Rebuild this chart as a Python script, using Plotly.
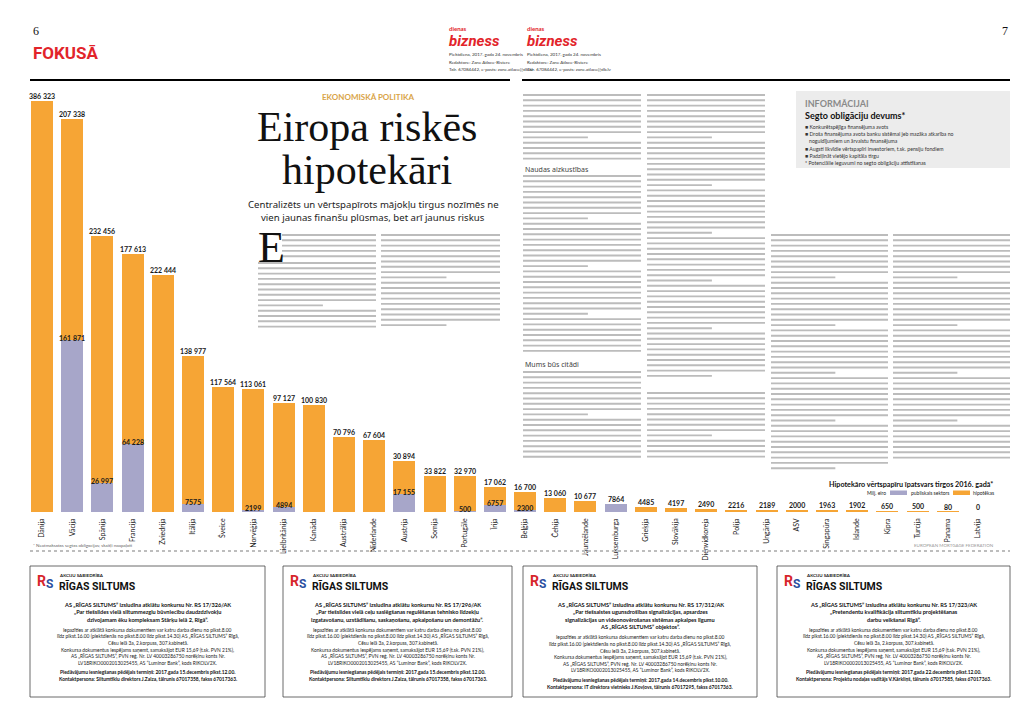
import plotly.graph_objects as go

# ---------------- data ----------------
countries = ["Dānija", "Vācija", "Spānija", "Francija", "Zviedrija", "Itālija", "Šveice",
             "Norvēģija", "Lielbritānija", "Kanāda", "Austrālija", "Nīderlande", "Austrija",
             "Somija", "Portugāle", "Īrija", "Beļģija", "Čehija", "Jaunzēlande", "Luksemburga",
             "Grieķija", "Slovākija", "Dienvidkoreja", "Polija", "Ungārija", "ASV", "Singapūra",
             "Islande", "Kipra", "Turcija", "Panama", "Latvija"]
publiskais = [0, 161871, 26997, 64228, 0, 7575, 0, 2199, 4894, 0, 0, 0, 17155, 0, 500, 6757,
              2300, 0, 0, 7864, 0, 0, 0, 0, 0, 0, 0, 0, 0, 0, 0, 0]
hipotekas = [386323, 207338, 232456, 177613, 222444, 138977, 117564, 113061, 97127, 100830,
             70796, 67604, 30894, 33822, 32970, 17062, 16700, 13060, 10677, 0, 4485, 4197,
             2490, 2216, 2189, 2000, 1963, 1902, 650, 500, 80, 0]

ORANGE = "#F6A535"
PURPLE = "#A7A6C9"

# plot area in page pixels (for decorations)
L, R, T, B = 27, 993, 86, 512


def X(px):
    return (px - L) / (R - L)


def Y(py):
    return (B - py) / (B - T)


def fmt(v):
    return f"{v:,}".replace(",", " ") if v >= 10000 else str(v)


fig = go.Figure()
fig.add_trace(go.Bar(x=countries, y=publiskais, name="publiskais sektors",
                     marker=dict(color=PURPLE, line=dict(width=0))))
fig.add_trace(go.Bar(x=countries, y=hipotekas, name="hipotēkas",
                     marker=dict(color=ORANGE, line=dict(width=0))))

ann = []
LBL = dict(family="Lato", size=7, color="#1a1a1a")
for c, p, h in zip(countries, publiskais, hipotekas):
    tot = p + h
    if h > 0 or tot == 0:
        ann.append(dict(x=c, y=tot, xref="x", yref="y", text=f"<b>{fmt(h)}</b>",
                        showarrow=False, yanchor="bottom", font=LBL, yshift=-1))
    if p > 0:
        if h > 0:
            ann.append(dict(x=c, y=p, xref="x", yref="y", text=f"<b>{fmt(p)}</b>",
                            showarrow=False, yanchor="bottom", font=LBL, yshift=-4))
        else:
            ann.append(dict(x=c, y=p, xref="x", yref="y", text=f"<b>{fmt(p)}</b>",
                            showarrow=False, yanchor="bottom", font=LBL, yshift=-1))


def txt(x, y, text, size=6, color="#222", family="Lato", anchor="left", yanchor="middle", bold=False):
    t = f"<b>{text}</b>" if bold else text
    ann.append(dict(x=X(x), y=Y(y), xref="paper", yref="paper", text=t, showarrow=False,
                    xanchor=anchor, yanchor=yanchor, font=dict(family=family, size=size, color=color)))


shapes = []


def rect(x0, y0, x1, y1, fill=None, line=None, lw=1):
    shapes.append(dict(type="rect", xref="paper", yref="paper", x0=X(x0), x1=X(x1), y0=Y(y0), y1=Y(y1),
                       fillcolor=fill if fill else "rgba(0,0,0,0)",
                       line=dict(color=line if line else "rgba(0,0,0,0)", width=lw if line else 0),
                       layer="above" if fill is None else "below"))


def hline(x0, x1, y, color="#000", w=1, dash="solid"):
    shapes.append(dict(type="line", xref="paper", yref="paper", x0=X(x0), x1=X(x1), y0=Y(y), y1=Y(y),
                       line=dict(color=color, width=w, dash=dash)))


def text_block(x0, x1, y0, y1, pitch=5.3):
    segs = []
    y = y0
    i = 0
    while y <= y1:
        xe = x1 if (i % 9 != 8) else x0 + (x1 - x0) * 0.55
        segs.append(f"M {X(x0):.5f} {Y(y):.5f} L {X(xe):.5f} {Y(y):.5f}")
        y += pitch
        i += 1
    shapes.append(dict(type="path", xref="paper", yref="paper", path=" ".join(segs),
                       line=dict(color="#bcbcbc", width=1.9)))


# ---------------- page header ----------------
txt(31, 31, "6", size=12, family="Liberation Serif", color="#111")
txt(1010, 31, "7", size=12, family="Liberation Serif", color="#111", anchor="right")
txt(31, 53, "FOKUSĀ", size=17, family="Roboto", color="#E2242A", bold=True)
hline(30, 510, 80, w=2)
hline(522, 1010, 80, w=2)
for lx in (447, 525):
    txt(lx, 29, "dienas", size=6, family="Lato", color="#E2242A", bold=True)
    txt(lx, 41, "<i>bizness</i>", size=15, family="Roboto", color="#E2242A", bold=True)
    txt(lx, 55, "Piektdiena, 2017. gada 24. novembris", size=4.5, color="#333")
    txt(lx, 62, "Redaktore: Zane Atlāce-Bistere", size=4.5, color="#333")
    txt(lx, 69, "Tālr. 67084442, e-pasts: zane.atlace@db.lv", size=4.5, color="#333")

# ---------------- headline ----------------
txt(368, 97, "EKONOMISKĀ POLITIKA", size=8, color="#D9A448", bold=True, anchor="center")
txt(367, 127, "Eiropa riskēs", size=42, family="Liberation Serif", color="#111", anchor="center")
txt(367, 170, "hipotekāri", size=42, family="Liberation Serif", color="#111", anchor="center")
txt(373, 204, "Centralizēts un vērtspapīrots mājokļu tirgus nozīmēs ne", size=9.6, family="Noto Sans",
    color="#222", anchor="center")
txt(373, 217, "vien jaunas finanšu plūsmas, bet arī jaunus riskus", size=9.6, family="Noto Sans",
    color="#222", anchor="center")

# drop cap and body text placeholders
txt(256, 247, "E", size=44, family="Liberation Serif", color="#111")
text_block(282, 376, 235, 258)
text_block(258, 376, 263, 330)
text_block(381, 500, 235, 330)
text_block(523, 641, 95, 160)
txt(523, 169, "Naudas aizkustības", size=7, family="Noto Sans", color="#444")
text_block(523, 641, 176, 356)
txt(523, 364, "Mums būs citādi", size=7, family="Noto Sans", color="#444")
text_block(523, 641, 372, 458)
text_block(647, 765, 95, 378)
text_block(647, 765, 393, 458)
text_block(771, 888, 235, 470)
text_block(893, 1010, 235, 462)

# info box
rect(796, 91, 1010, 168, fill="#ECECEC")
txt(803, 103, "INFORMĀCIJAI", size=9, color="#8A8A8A", bold=True)
txt(803, 115, "Segto obligāciju devums*", size=9, color="#111", bold=True)
info = ["■ Konkurētspējīga finansējuma avots",
        "■ Droša finansējuma avota banku sistēmai jeb mazāka atkarība no",
        "   noguldījumiem un ārvalstu finansējuma",
        "■ Augsti likvīdie vērtspapīri investoriem, t.sk. pensiju fondiem",
        "■ Padziļināt vietējo kapitāla tirgu",
        "* Potenciālie ieguvumi no segto obligāciju attīstīšanas"]
for i, s in enumerate(info):
    txt(803, 127 + i * 7.2, s, size=5.2, color="#333")

# ---------------- chart legend / notes ----------------
txt(995, 484, "Hipotekāro vērtspapīru īpatsvars tirgos 2016. gadā*", size=7.2, color="#111",
    bold=True, anchor="right")
txt(888, 493, "Milj. eiro", size=5, color="#222", anchor="right")
rect(890, 490.5, 907, 495, fill=PURPLE)
txt(909, 493, "publiskais sektors", size=5, color="#222")
rect(953, 490.5, 970, 495, fill=ORANGE)
txt(971, 493, "hipotēkas", size=5, color="#222")
txt(996, 545, "EUROPEAN MORTGAGE FEDERATION", size=4.5, color="#999", anchor="right")
txt(31, 545, "* Neatmaksātās segtās obligācijas; skaitļi noapaļoti", size=4.5, color="#666")
hline(30, 1010, 551, color="#bdbdbd", w=2, dash="dot")

# ---------------- advertisements ----------------
ads = [
    (30, 265, ["AS „RĪGAS SILTUMS” izsludina atklātu konkursu Nr. RS 17/326/AK",
               "„Par tiešsildes vielā siltummezglu būvniecību daudzdzīvokļu",
               "dzīvojamam ēku kompleksam Stārķu ielā 2, Rīgā”."],
     "2017.gada 15.decembris plkst.12.00.",
     "Kontaktpersona: Siltumtīklu direktors J.Zalza, tālrunis 67017358, fakss 67017363."),
    (283, 512, ["AS „RĪGAS SILTUMS” izsludina atklātu konkursu Nr. RS 17/296/AK",
                "„Par tiešsildes vielā ceļu saslēgšanas regulēšanas tehnisko līdzekļu",
                "izgatavošanu, uzstādīšanu, saskaņošanu, apkalpošanu un demontāžu”."],
     "2017.gada 15.decembris plkst.12.00.",
     "Kontaktpersona: Siltumtīklu direktors J.Zalza, tālrunis 67017358, fakss 67017363."),
    (523, 757, ["AS „RĪGAS SILTUMS” izsludina atklātu konkursu Nr. RS 17/312/AK",
                "„Par tiešsaistes ugunsdrošības signalizācijas, apsardzes",
                "signalizācijas un videonovērošanas sistēmas apkalpes līgumu",
                "AS „RĪGAS SILTUMS” objektos”."],
     "2017.gada 14.decembris plkst.10.00.",
     "Kontaktpersona: IT direktora vietnieks J.Kovļovs, tālrunis 67017295, fakss 67017363."),
    (777, 1010, ["AS „RĪGAS SILTUMS” izsludina atklātu konkursu Nr. RS 17/323/AK",
                 "„Pretendentu kvalifikācija siltumtīklu projektēšanas",
                 "darbu veikšanai Rīgā”."],
     "2017.gada 22.decembris plkst.12.00.",
     "Kontaktpersona: Projektu nodaļas vadītājs V.Kārkliņš, tālrunis 67017585, fakss 67017363."),
]
body = ["Iepazīties ar atklātā konkursa dokumentiem var katru darba dienu no plkst.8.00",
        "līdz plkst.16.00 (piektdienās no plkst.8.00 līdz plkst.14.30) AS „RĪGAS SILTUMS” Rīgā,",
        "Cēsu ielā 3a, 2.korpuss, 307.kabinetā."]
body2 = ["Konkursa dokumentus iespējams saņemt, samaksājot EUR 15,69 (t.sk. PVN 21%),",
         "AS „RĪGAS SILTUMS”, PVN reģ. Nr. LV 40003286750 norēķinu konts Nr.",
         "LV18RIKO0002013025455, AS “Luminor Bank”, kods RIKOLV2X."]
for x0, x1, heads, dl, contact in ads:
    rect(x0, 566, x1, 697, line="#444", lw=0.8)
    cx = (x0 + x1) / 2
    txt(x0 + 5, 581, "R", size=14, family="Roboto", color="#D7262C", bold=True)
    txt(x0 + 14, 584, "S", size=12, family="Roboto", color="#2B4FA0", bold=True)
    txt(x0 + 27, 575, "AKCIJU SABIEDRĪBA", size=4.5, color="#222", bold=True)
    txt(x0 + 27, 586, "RĪGAS SILTUMS", size=10.5, family="Roboto", color="#111", bold=True)
    y = 604
    for h in heads:
        txt(cx, y, h, size=5.6, color="#111", bold=True, anchor="center")
        y += 7.6
    y += 3
    for s in body + (body2 if len(heads) < 4 or x0 < 600 else []):
        txt(cx, y, s, size=4.9, color="#222", anchor="center")
        y += 6.6
    y += 3
    txt(cx, y, "Piedāvājumu iesniegšanas pēdējais termiņš: " + dl, size=4.9, color="#111",
        bold=True, anchor="center")
    txt(cx, y + 6.6, contact, size=4.9, color="#111", bold=True, anchor="center")

fig.update_layout(
    barmode="stack",
    bargap=0.27,
    width=1024, height=728,
    margin=dict(l=L, r=1024 - R, t=T, b=728 - B, pad=0),
    paper_bgcolor="white", plot_bgcolor="white",
    showlegend=False,
    annotations=ann,
    shapes=shapes,
    font=dict(family="Lato"),
)
fig.update_xaxes(type="category", tickangle=-90, tickfont=dict(family="Lato", size=7, color="#222"),
                 showline=False, showgrid=False, ticks="", automargin=False, ticklabelstandoff=4)
fig.update_yaxes(range=[0, 400000], visible=False, showgrid=False, automargin=False)

fig.write_html("out.html", config={"displayModeBar": False},
               post_script="document.body.style.margin='0';document.body.style.overflow='hidden';")
